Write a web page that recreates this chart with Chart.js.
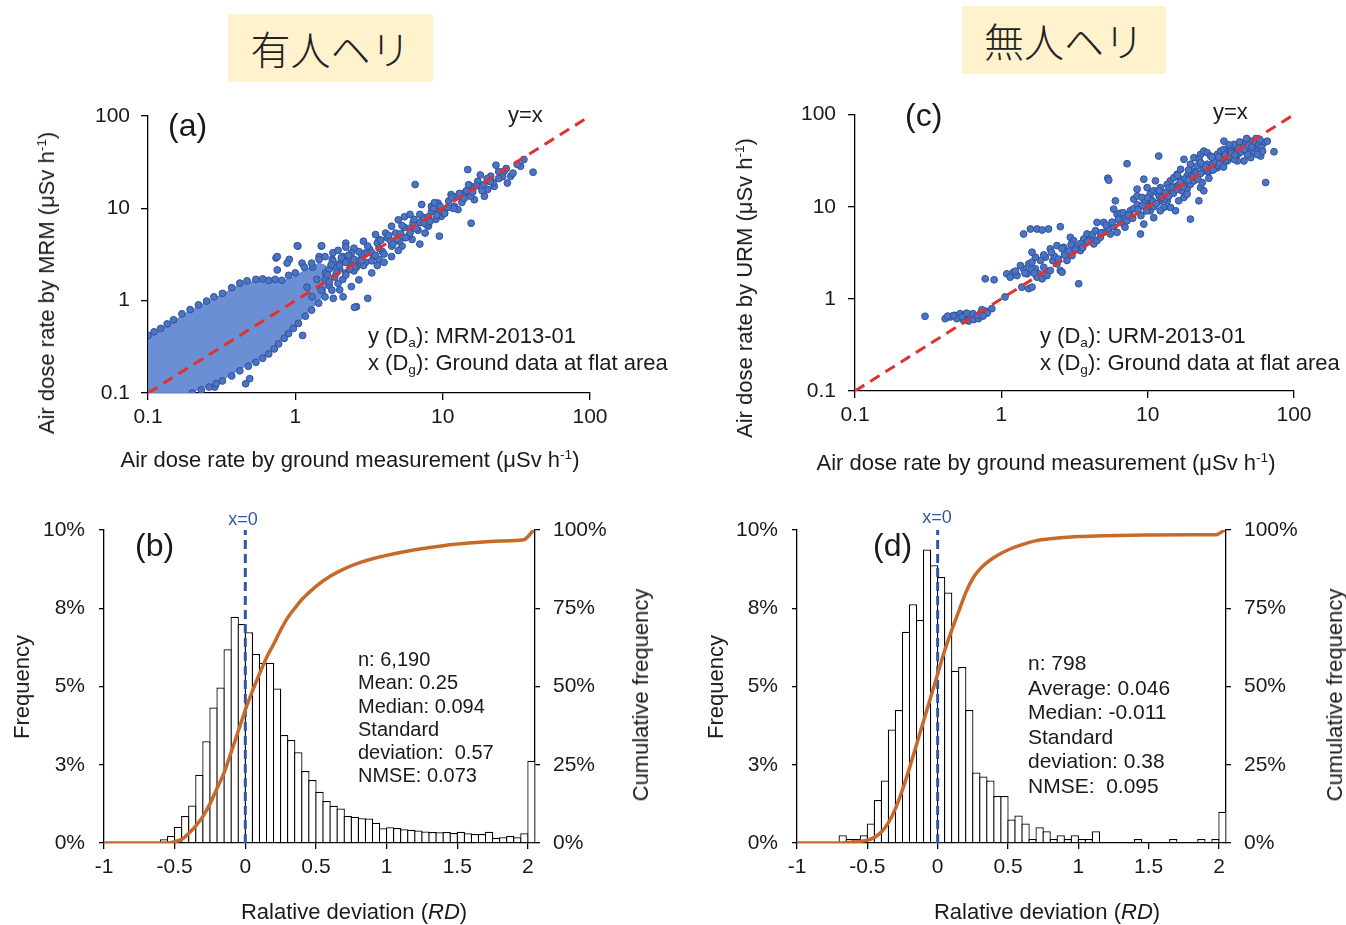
<!DOCTYPE html>
<html>
<head>
<meta charset="utf-8">
<script src="https://cdn.jsdelivr.net/npm/chart.js@4.4.1/dist/chart.umd.min.js"></script>
<style>
body{margin:0;background:#fff;width:1346px;height:925px;position:relative;overflow:hidden;font-family:'Liberation Sans',Arial,sans-serif;color:#1a1a1a}
.box{position:absolute}
.t{position:absolute;white-space:pre;line-height:1;transform:translate(-50%,-50%);font-size:22px}
.l{transform:translate(0,-50%)}
.r{transform:translate(-50%,-50%) rotate(-90deg)}
sup,sub{font-size:62%;line-height:0}
sup{vertical-align:0.6em}
sub{vertical-align:-0.3em}
.jp{position:absolute;background:#fff2cc;font-family:'Noto Sans CJK JP',sans-serif;font-size:40px;font-weight:300;text-align:center;color:#222;line-height:68px;height:68px}
.stats{position:absolute;white-space:pre}
</style>
</head>
<body>
<div class="jp" style="left:228px;top:14px;width:205px">有人ヘリ</div>
<div class="jp" style="left:962px;top:6px;width:204px">無人ヘリ</div>

<div class="box" style="left:0;top:90px"><canvas id="chartA" width="680" height="400"></canvas></div>
<div class="box" style="left:690px;top:90px"><canvas id="chartC" width="656" height="400"></canvas></div>
<div class="box" style="left:0;top:500px"><canvas id="chartB" width="680" height="400"></canvas></div>
<div class="box" style="left:690px;top:500px"><canvas id="chartD" width="656" height="400"></canvas></div>

<!-- panel (a) -->
<div class="t r" style="left:47px;top:283px">Air dose rate by MRM (μSv h<sup>-1</sup>)</div>
<div class="t" style="left:350px;top:460px">Air dose rate by ground measurement (μSv h<sup>-1</sup>)</div>
<div class="t l" style="left:168px;top:125px;font-size:32px">(a)</div>
<div class="t l" style="left:508px;top:115px">y=x</div>
<div class="t l" style="left:368px;top:336px">y (D<sub>a</sub>): MRM-2013-01</div>
<div class="t l" style="left:368px;top:363px">x (D<sub>g</sub>): Ground data at flat area</div>

<!-- panel (c) -->
<div class="t r" style="left:745px;top:288px">Air dose rate by URM (μSv h<sup>-1</sup>)</div>
<div class="t" style="left:1046px;top:463px">Air dose rate by ground measurement (μSv h<sup>-1</sup>)</div>
<div class="t l" style="left:905px;top:115px;font-size:32px">(c)</div>
<div class="t l" style="left:1213px;top:112px">y=x</div>
<div class="t l" style="left:1040px;top:336px">y (D<sub>a</sub>): URM-2013-01</div>
<div class="t l" style="left:1040px;top:363px">x (D<sub>g</sub>): Ground data at flat area</div>

<!-- panel (b) -->
<div class="t r" style="left:22px;top:687px">Frequency</div>
<div class="t r" style="left:641px;top:695px">Cumulative frequency</div>
<div class="t" style="left:354px;top:912px">Ralative deviation (<i>RD</i>)</div>
<div class="t l" style="left:135px;top:545px;font-size:32px">(b)</div>
<div class="t" style="left:243px;top:519px;font-size:18px;color:#2f56a6">x=0</div>
<div class="stats" style="left:358px;top:648px;font-size:20px;line-height:23.3px">n: 6,190
Mean: 0.25
Median: 0.094
Standard
deviation:  0.57
NMSE: 0.073</div>

<!-- panel (d) -->
<div class="t r" style="left:716px;top:687px">Frequency</div>
<div class="t r" style="left:1335px;top:695px">Cumulative frequency</div>
<div class="t" style="left:1047px;top:912px">Ralative deviation (<i>RD</i>)</div>
<div class="t l" style="left:873px;top:545px;font-size:32px">(d)</div>
<div class="t" style="left:937px;top:517px;font-size:18px;color:#2f56a6">x=0</div>
<div class="stats" style="left:1028px;top:651px;font-size:21px;line-height:24.6px">n: 798
Average: 0.046
Median: -0.011
Standard
deviation: 0.38
NMSE:  0.095</div>

<script>
// tick values
const logTicks = [0.1, 1, 10, 100];
const rdTicks = [-1, -0.5, 0, 0.5, 1, 1.5, 2];
const freqTicks = [0, 2.5, 5, 7.5, 10];
const cumTicks = [0, 25, 50, 75, 100];

// histogram bins (RD, width 0.05; last bin = values above 2)
const binCenters = [
  -0.975, -0.925, -0.875, -0.825, -0.775, -0.725, -0.675, -0.625, -0.575, -0.525,
  -0.475, -0.425, -0.375, -0.325, -0.275, -0.225, -0.175, -0.125, -0.075, -0.025,
  0.025, 0.075, 0.125, 0.175, 0.225, 0.275, 0.325, 0.375, 0.425, 0.475,
  0.525, 0.575, 0.625, 0.675, 0.725, 0.775, 0.825, 0.875, 0.925, 0.975,
  1.025, 1.075, 1.125, 1.175, 1.225, 1.275, 1.325, 1.375, 1.425, 1.475,
  1.525, 1.575, 1.625, 1.675, 1.725, 1.775, 1.825, 1.875, 1.925, 1.975,
  2.025
];

// frequency in % (MRM, panel b)
const freqMrm = [
  0, 0, 0, 0, 0, 0, 0, 0, 0.12, 0.22,
  0.52, 0.86, 1.2, 2.18, 3.25, 4.33, 4.97, 6.19, 7.23, 7.0,
  6.73, 6.04, 5.76, 5.76, 4.94, 3.45, 3.29, 2.9, 2.3, 2.01,
  1.64, 1.34, 1.19, 1.1, 0.86, 0.84, 0.79, 0.78, 0.65, 0.47,
  0.5, 0.48, 0.44, 0.42, 0.4, 0.37, 0.35, 0.34, 0.35, 0.32,
  0.36, 0.31, 0.29, 0.29, 0.36, 0.17, 0.18, 0.22, 0.18, 0.31,
  2.63
];

// frequency in % (URM, panel d)
const freqUrm = [
  0, 0, 0, 0, 0, 0, 0.25, 0.125, 0.125, 0.25,
  0.625, 1.375, 2.0, 3.625, 4.25, 6.75, 7.625, 7.125, 9.375, 8.875,
  8.5, 8.0, 5.5, 5.625, 4.25, 2.25, 2.125, 2.0, 1.5, 1.5,
  0.75, 0.875, 0.625, 0.125, 0.5, 0.375, 0.125, 0.25, 0.125, 0.25,
  0.125, 0.125, 0.375, 0, 0, 0, 0, 0, 0.125, 0,
  0, 0, 0, 0.125, 0, 0, 0, 0.125, 0, 0.125,
  1.0
];

// cumulative frequency curves (%)
const cumMrmX = [-1, -0.55, -0.5, -0.45, -0.4, -0.35, -0.3, -0.25, -0.2, -0.15, -0.1, -0.05, 0, 0.05, 0.1, 0.15, 0.2, 0.25, 0.3, 0.35, 0.4, 0.45, 0.5, 0.6, 0.7, 0.8, 0.9, 1.0, 1.2, 1.4, 1.6, 1.8, 1.97, 2.04];
const cumMrmY = [0, 0, 0.4, 1.2, 3.1, 5.5, 8.5, 12.5, 17.5, 22.5, 29, 35.7, 42.5, 48.5, 54, 59.2, 63.5, 68, 72, 75, 77.8, 80, 82, 85.2, 87.6, 89.4, 90.8, 91.9, 93.7, 95, 95.9, 96.5, 96.9, 100];
const cumUrmX = [-1, -0.7, -0.6, -0.5, -0.45, -0.4, -0.35, -0.3, -0.25, -0.2, -0.15, -0.1, -0.05, 0, 0.05, 0.1, 0.15, 0.2, 0.25, 0.3, 0.4, 0.5, 0.6, 0.7, 0.8, 1.0, 1.2, 1.5, 1.8, 1.98, 2.04];
const cumUrmY = [0, 0, 0.3, 0.9, 1.8, 3.5, 6.5, 11, 17, 24, 31.5, 39, 46.5, 54, 61.5, 68, 74, 80, 84.5, 87.5, 91.2, 93.6, 95.3, 96.6, 97.2, 97.9, 98.2, 98.4, 98.5, 98.5, 100];

// dense cloud outline of MRM points [ground, air] (μSv/h)
const mrmDense = [
  [0.1, 0.1], [0.1, 0.40], [0.122, 0.48], [0.149, 0.6], [0.193, 0.78], [0.25, 0.97], [0.323, 1.18],
  [0.418, 1.5], [0.54, 1.64], [0.663, 1.62], [0.814, 1.62], [1.0, 1.85], [1.2, 2.2], [1.45, 2.55],
  [1.6, 2.4], [1.6, 1.2], [1.29, 0.82], [1.05, 0.58], [0.9, 0.46], [0.773, 0.36], [0.663, 0.28],
  [0.54, 0.225], [0.418, 0.18], [0.323, 0.14], [0.25, 0.118], [0.2, 0.103], [0.193, 0.1], [0.1, 0.1]
];

// MRM points [ground, air]
const mrmPoints = [
  [35.6, 33.8], [41.1, 24.6], [23.0, 29.3], [26.1, 25.2], [27.5, 18.8], [21.2, 22.3], [20.2, 16.0], [14.8, 26.3],
  [17.3, 19.6], [15.6, 17.3], [12.7, 13.5], [11.4, 14.1], [9.3, 11.4], [8.4, 10.5], [7.2, 11.0], [6.5, 18.1],
  [15.6, 6.9], [9.5, 5.0], [7.0, 4.1], [5.5, 8.1], [4.5, 6.4], [3.7, 4.6], [3.0, 3.3], [2.4, 2.5], [2.0, 2.2],
  [1.6, 1.7], [1.5, 3.9], [1.04, 3.9], [0.74, 2.9], [0.91, 2.8], [2.6, 0.86], [3.1, 1.06], [1.12, 0.42],
  [0.49, 0.143], [0.46, 0.126], [19.2, 13.5], [12.0, 10.5], [5.0, 7.5], [4.1, 5.4], [2.2, 4.2], [2.0, 1.31],
  [2.4, 1.42], [3.3, 2.0], [4.5, 3.0], [6.2, 4.6], [8.0, 6.4], [10.3, 8.9], [12.7, 9.7], [16.4, 12.4],
  [22.4, 17.3], [29.0, 22.3], [33.8, 28.6], [1.78, 2.8], [1.31, 2.3], [1.45, 3.0], [2.7, 1.68], [3.7, 2.8],
  [5.3, 3.9], [14.1, 14.7], [9.8, 8.2],
  [1.03, 3.93], [1.51, 3.93], [0.754, 3.0], [0.754, 2.15], [0.88, 2.55], [1.11, 2.55], [2.52, 0.847],
  [1.81, 1.06], [2.11, 1.10], [0.284, 0.116],
  [2.0, 2.5], [2.2, 2.0], [2.4, 2.9], [2.6, 2.3], [2.8, 3.2], [3.0, 2.6], [3.2, 3.6], [3.4, 3.0], [3.6, 4.2],
  [3.9, 3.4], [4.2, 4.8], [4.5, 3.9], [4.8, 5.4], [5.1, 4.4], [5.5, 6.2], [5.9, 5.0], [6.3, 7.0], [6.8, 5.8],
  [7.3, 8.0], [7.8, 6.6], [8.4, 9.2], [9.0, 7.6], [9.6, 10.5], [10.3, 8.8], [11.0, 12.0], [11.8, 10.0],
  [12.6, 13.5], [13.5, 11.6], [14.5, 15.5], [15.5, 13.5], [17, 17.5], [18.5, 15.5], [20, 21], [22, 19],
  [24, 25], [2.3, 2.6], [2.7, 2.7], [3.3, 3.3], [3.7, 3.7], [4.4, 4.5], [5.2, 5.3], [6.0, 6.1], [7.0, 7.0],
  [8.0, 8.1], [9.3, 9.2],
  [1.2, 1.4], [1.3, 1.1], [1.4, 1.7], [1.5, 1.3], [1.6, 2.0], [1.7, 1.45], [1.9, 2.3], [2.1, 1.7], [2.3, 2.9],
  [2.5, 2.1], [2.7, 3.4], [2.9, 2.4], [3.1, 3.9], [3.3, 2.7], [3.5, 3.1], [3.8, 4.5], [4.0, 3.2], [4.3, 5.1],
  [4.6, 4.1], [4.9, 4.6], [5.3, 6.5], [5.6, 4.8], [6.0, 5.4], [6.4, 7.6], [6.6, 6.0], [7.0, 8.6], [7.5, 6.9],
  [8.2, 7.2], [8.7, 10.0], [9.1, 8.4], [3.5, 5.2], [4.0, 2.6], [5.0, 3.5], [6.0, 8.6], [7.6, 5.4], [8.8, 11.5],
  [2.9, 4.4], [2.5, 3.7], [3.6, 2.4], [10.8, 10.2], [11.5, 13.2], [13.0, 14.5], [14.0, 12.8], [16.0, 15.0],
  [19.0, 18.0], [21.0, 19.5], [25.5, 22.0], [27.0, 27.0], [30.0, 24.0], [32.0, 30.0], [18, 23], [24, 21], [15, 18],
  [0.1, 0.42], [0.11, 0.46], [0.122, 0.5], [0.135, 0.56], [0.149, 0.62], [0.17, 0.72], [0.193, 0.8],
  [0.22, 0.9], [0.25, 0.99], [0.28, 1.1], [0.32, 1.2], [0.37, 1.38], [0.42, 1.55], [0.47, 1.64], [0.54, 1.7],
  [0.6, 1.72], [0.66, 1.66], [0.73, 1.7], [0.81, 1.66], [0.9, 1.88], [1.0, 2.0], [1.15, 2.3], [1.29, 2.55],
  [1.45, 2.8], [1.59, 3.0], [1.8, 3.3], [1.95, 3.5], [2.2, 3.8],
  [0.2, 0.1], [0.23, 0.108], [0.26, 0.116], [0.29, 0.126], [0.32, 0.135], [0.37, 0.153], [0.42, 0.174],
  [0.48, 0.195], [0.54, 0.215], [0.6, 0.238], [0.66, 0.265], [0.72, 0.30], [0.77, 0.34], [0.84, 0.39],
  [0.9, 0.44], [0.97, 0.5], [1.05, 0.567], [1.17, 0.68], [1.29, 0.79], [1.44, 0.94], [1.59, 1.10],
  [1.77, 1.3], [1.95, 1.54], [2.2, 1.9], [2.52, 2.34], [2.8, 2.7],
  [1.7, 1.6], [1.7, 2.2], [1.8, 2.7], [1.9, 2.0], [2.0, 2.4], [2.1, 3.0], [2.2, 2.6], [2.35, 2.2],
  [2.4, 3.3], [2.5, 2.8], [1.65, 1.9], [1.75, 2.45], [1.85, 1.8], [2.05, 2.9], [2.3, 3.1]
];

// URM points [ground, air]
const urmPoints = [
  [0.301, 0.647], [0.413, 0.610], [0.447, 0.636], [0.483, 0.662], [0.523, 0.690], [0.566, 0.679],
  [0.612, 0.662], [0.662, 0.636], [0.717, 0.690], [0.776, 0.738], [0.861, 0.782], [0.552, 0.585],
  [0.597, 0.575], [0.646, 0.595], [0.698, 0.610], [0.497, 0.610], [0.736, 0.763], [0.47, 0.66],
  [0.54, 0.64], [0.58, 0.70], [0.64, 0.69], [0.69, 0.66], [0.80, 0.70], [0.75, 0.65], [0.43, 0.65],
  [1.06, 1.05], [0.776, 1.65], [0.893, 1.61],
  [1.09, 1.87], [1.21, 1.95], [1.15, 1.72], [1.28, 1.79], [1.42, 2.12], [1.35, 2.30], [1.54, 2.40],
  [1.62, 2.50], [1.71, 2.12], [1.80, 1.87], [1.50, 1.87], [1.38, 1.34], [1.54, 1.29], [1.62, 1.34],
  [1.75, 1.72], [1.90, 1.65], [2.05, 1.79], [2.16, 2.03], [2.40, 2.40], [2.53, 2.03], [2.67, 3.63],
  [2.40, 3.79], [2.16, 3.49], [2.00, 2.83], [1.85, 2.61], [1.71, 2.83], [1.62, 3.21],
  [1.42, 5.06], [1.58, 5.73], [1.75, 5.73], [1.90, 5.59], [2.10, 5.73], [2.53, 6.07], [2.96, 4.66],
  [3.12, 4.29], [3.29, 3.63], [3.47, 3.34], [3.04, 2.95], [2.81, 2.61], [2.60, 1.95], [3.38, 1.46],
  [3.66, 4.47], [3.85, 5.06], [4.06, 4.47], [4.28, 3.95], [4.51, 4.29], [4.75, 4.66], [5.01, 5.27],
  [5.42, 5.73], [5.86, 6.07], [5.56, 5.06], [6.18, 5.27], [5.01, 6.76], [4.51, 6.76],
  [5.34, 20.4], [5.42, 19.4], [7.23, 29.3], [11.9, 35.5], [9.41, 19.9], [6.02, 11.6], [5.86, 9.42],
  [6.18, 8.32], [6.87, 7.98], [6.51, 6.76], [7.23, 7.05], [7.62, 9.04], [8.04, 12.1], [8.47, 13.1],
  [9.16, 12.6], [9.92, 11.6], [10.4, 13.7], [11.0, 14.9], [11.6, 14.3], [12.2, 11.6], [12.9, 9.82],
  [13.6, 11.6], [14.3, 9.82], [8.93, 5.06], [9.41, 6.48], [10.4, 9.04], [11.0, 7.6], [12.2, 9.04],
  [14.3, 19.1], [15.1, 20.7], [15.9, 22.5], [16.8, 19.9], [17.7, 17.5], [18.6, 15.5], [19.6, 17.5],
  [20.7, 19.1], [21.8, 20.7], [23.0, 16.1], [24.2, 14.9], [19.6, 7.34], [15.5, 9.04], [16.3, 11.6],
  [17.7, 12.6], [18.6, 13.7],
  [19.6, 28.9], [20.7, 34.1], [23.0, 37.0], [24.2, 40.2], [25.5, 38.6], [26.9, 35.5], [28.4, 32.7],
  [29.9, 37.0], [31.5, 40.2], [33.2, 41.9], [35.0, 38.6], [36.9, 43.6], [38.9, 40.2], [41.0, 37.0],
  [43.2, 41.9], [45.5, 49.5], [48.0, 43.6], [50.6, 40.2], [53.3, 38.6], [56.1, 41.9], [59.2, 35.5],
  [62.4, 49.5], [65.7, 51.5], [64.0, 18.3], [73.0, 39.5], [45.5, 31.4], [41.0, 31.4], [29.9, 26.5],
  [26.9, 26.5], [24.2, 24.4], [21.8, 27.7], [20.1, 24.4], [18.6, 21.6], [16.8, 25.5], [17.7, 32.7],
  [31.5, 31.4], [35.0, 31.4], [38.9, 32.7], [50.6, 34.1], [56.1, 37.0], [33.2, 51.5], [45.5, 45.5],
  [53.3, 47.4], [50.6, 51.5], [48.0, 37.0], [25.5, 28.9], [22.4, 32.7],
  [12.2, 16.1], [13.6, 17.5], [9.92, 16.1], [11.3, 19.1], [8.47, 15.5], [12.6, 13.1], [14.3, 14.9],
  [22.4, 11.6], [26.2, 20.4], [23.6, 18.3],
  [6.5, 8.5], [7, 6], [7.5, 8], [8, 9.5], [8.5, 10.5], [9, 8], [9.5, 11], [10, 10], [10.5, 12], [11, 10],
  [12, 13], [13, 12], [14, 16], [15, 14], [16, 17], [17, 15], [18, 20], [20, 22], [22, 20], [24, 26],
  [26, 24], [28, 30], [30, 28], [32, 35], [34, 32], [37, 40], [40, 45], [42, 38], [44, 47], [47, 50],
  [52, 45], [55, 55],
  [1.25, 2.0], [1.45, 1.9], [1.6, 2.1], [1.68, 1.9], [1.95, 2.2], [2.25, 2.6], [2.3, 2.9], [2.45, 2.7],
  [2.7, 3.0], [2.9, 3.3], [2.2, 3.2], [1.95, 3.0], [2.6, 3.5], [3.0, 3.9], [3.2, 3.4], [3.5, 4.0], [3.6, 3.6],
  [3.9, 4.2], [4.2, 5.0], [4.4, 5.5], [4.8, 5.2], [5.2, 6.3], [5.7, 6.8], [6.3, 7.3], [6.8, 8.6], [7.4, 8.1],
  [7.9, 7.5], [8.6, 9.3], [9.2, 10.3], [9.8, 9.0], [10.8, 11.5], [11.5, 10.8], [12.5, 12.6], [13.2, 14.2],
  [13.9, 13.0], [14.8, 16.3], [15.8, 15.5], [16.7, 18.5], [17.5, 16.5], [19.0, 19.5], [20.5, 21.5],
  [21.5, 23.5], [23.0, 23.0], [24.8, 27.5], [26.5, 25.0], [27.8, 29.0], [29.0, 31.0], [31.0, 29.5],
  [32.5, 33.5], [34.0, 36.5], [36.0, 35.0], [37.5, 38.0], [39.5, 36.5], [41.5, 44.0], [43.5, 39.5],
  [46.0, 42.0], [49.0, 46.5], [51.5, 44.5], [54.5, 50.0], [57.5, 47.0], [60.0, 44.0], [39.0, 47.5],
  [42.5, 50.5], [36.0, 47.0], [30.5, 34.5], [27.5, 34.5], [47.5, 55.0], [58.5, 53.5], [61, 40], [33, 27],
  [28, 25], [23, 30], [19, 25], [16, 22], [12, 15], [10, 12.5]
];

Chart.defaults.font.family = "'Liberation Sans', Arial, sans-serif";
Chart.defaults.font.size = 21;
Chart.defaults.color = '#1a1a1a';

const axisLine = { display: true, color: '#000', width: 1.3 };
const tickMarks = len => ({ display: true, drawOnChartArea: false, drawTicks: true, tickLength: len, color: '#000', lineWidth: 1.3 });
const fixedTicks = values => scale => { scale.ticks = values.map(v => ({ value: v })); };
const toXY = pairs => pairs.map(([x, y]) => ({ x, y }));

function scatterChart(id, points, dense, box) {
  const datasets = [
    { type: 'line', data: [{ x: 0.1, y: 0.1 }, { x: 100, y: 100 }], borderColor: '#e3312d', borderWidth: 3,
      borderDash: [11, 7], pointRadius: 0, fill: false, order: 0 },
    { type: 'scatter', data: toXY(points), pointRadius: 3.4, pointBackgroundColor: '#4b74c5',
      pointBorderColor: '#30529c', pointBorderWidth: 1, order: 1 },
  ];
  if (dense) {
    datasets.push({ type: 'line', data: toXY(dense), fill: 'shape', backgroundColor: '#6b8fd5',
      borderColor: '#5a80cc', borderWidth: 1, pointRadius: 0, order: 2 });
  }
  new Chart(document.getElementById(id), {
    type: 'scatter',
    data: { datasets },
    options: {
      animation: false, responsive: false, events: [],
      layout: { padding: box.pad },
      plugins: { legend: { display: false }, tooltip: { enabled: false } },
      scales: {
        x: {
          type: 'logarithmic', min: 0.1, max: 100,
          afterBuildTicks: fixedTicks(logTicks),
          afterFit: s => { s.height = 60; },
          ticks: { callback: v => String(v), padding: 5, maxRotation: 0, autoSkip: false },
          grid: tickMarks(7), border: axisLine,
        },
        y: {
          type: 'logarithmic', min: 0.1, max: 100,
          afterBuildTicks: fixedTicks(logTicks),
          afterFit: s => { s.width = box.yWidth; },
          ticks: { callback: v => String(v), padding: box.yPad, autoSkip: false },
          grid: tickMarks(7), border: axisLine,
        },
      },
    },
  });
}

function histChart(id, freq, cumX, cumY, box) {
  new Chart(document.getElementById(id), {
    type: 'bar',
    data: {
      datasets: [
        { type: 'line', data: cumX.map((x, i) => ({ x, y: cumY[i] })), yAxisID: 'y2', borderColor: '#c66a2c',
          borderWidth: 3.5, pointRadius: 0, cubicInterpolationMode: 'monotone', order: 0 },
        { type: 'line', data: [{ x: 0, y: 0 }, { x: 0, y: 10 }], yAxisID: 'y', borderColor: '#2f56a6',
          borderWidth: 3, borderDash: [9, 5], pointRadius: 0, order: 1 },
        { type: 'bar', data: binCenters.map((x, i) => ({ x, y: freq[i] })), yAxisID: 'y', backgroundColor: '#fff',
          borderColor: '#000', borderWidth: 1.25, barPercentage: 1.177, categoryPercentage: 1, grouped: false, order: 2 },
      ],
    },
    options: {
      animation: false, responsive: false, events: [],
      layout: { padding: box.pad },
      plugins: { legend: { display: false }, tooltip: { enabled: false } },
      scales: {
        x: {
          type: 'linear', min: -1, max: 2.05, offset: false,
          afterBuildTicks: fixedTicks(rdTicks),
          afterFit: s => { s.height = 50; },
          ticks: { callback: v => String(v), padding: 6, maxRotation: 0, autoSkip: false },
          grid: { ...tickMarks(6), offset: false }, border: axisLine,
        },
        y: {
          position: 'left', min: 0, max: 10,
          afterBuildTicks: fixedTicks(freqTicks),
          afterFit: s => { s.width = box.yWidth; },
          ticks: { callback: v => Math.round(v) + '%', padding: 14 },
          grid: tickMarks(5), border: axisLine,
        },
        y2: {
          position: 'right', min: 0, max: 100,
          afterBuildTicks: fixedTicks(cumTicks),
          afterFit: s => { s.width = box.y2Width; },
          ticks: { callback: v => v + '%', padding: 13 },
          grid: tickMarks(5), border: axisLine,
        },
      },
    },
  });
}

scatterChart('chartA', mrmPoints, mrmDense, { pad: { top: 26, left: 0, right: 90, bottom: 37 }, yWidth: 148, yPad: 11 });
scatterChart('chartC', urmPoints, null, { pad: { top: 23, left: 0, right: 52, bottom: 39 }, yWidth: 165, yPad: 12 });
histChart('chartB', freqMrm, cumMrmX, cumMrmY, { pad: { top: 30, left: 0, right: 25, bottom: 7 }, yWidth: 104, y2Width: 120 });
histChart('chartD', freqUrm, cumUrmX, cumUrmY, { pad: { top: 30, left: 0, right: 10, bottom: 7 }, yWidth: 107, y2Width: 110 });
</script>
</body>
</html>
